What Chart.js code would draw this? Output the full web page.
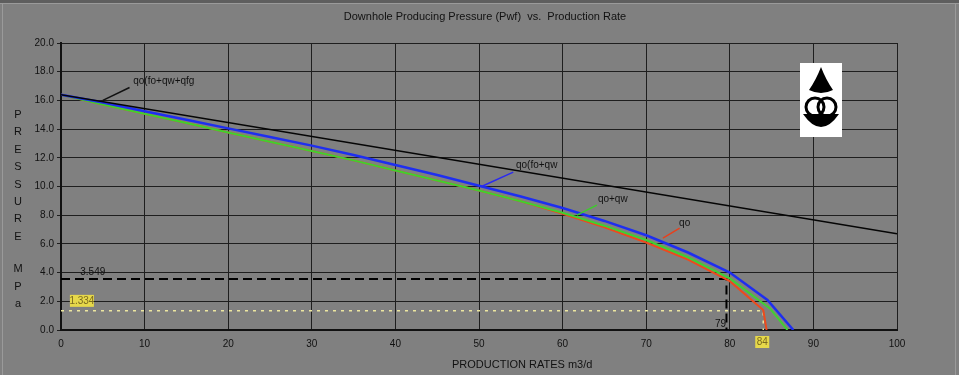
<!DOCTYPE html>
<html>
<head>
<meta charset="utf-8">
<script src="https://cdn.jsdelivr.net/npm/chart.js@4.4.1/dist/chart.umd.min.js"></script>
<style>
  html, body { margin: 0; padding: 0; background: #808080; }
  #wrap { width: 959px; height: 375px; position: relative; }
</style>
</head>
<body>
<div id="wrap"><canvas id="grafico" width="959" height="375"></canvas></div>
<script>
// IPR curves (rate m3/d, pressure MPa)
const qTotalRates = [0, 5, 10, 15, 20, 25, 30, 35, 40, 45, 50, 55, 60, 65, 70, 75, 80, 84.5, 87.6];
const qTotalPress = [16.4, 15.85, 15.25, 14.65, 14.05, 13.45, 12.85, 12.2, 11.5, 10.8, 10.05, 9.3, 8.5, 7.6, 6.6, 5.4, 4.0, 2.1, 0];
const qOilWaterRates = [0, 5, 10, 15, 20, 25, 30, 35, 40, 45, 50, 55, 60, 65, 70, 75, 80, 84.8, 86.9];
const qOilWaterPress = [16.4, 15.72, 15.07, 14.42, 13.77, 13.12, 12.47, 11.82, 11.12, 10.42, 9.72, 8.97, 8.17, 7.27, 6.27, 5.07, 3.6, 1.5, 0];
const qOilRates = [0, 5, 10, 15, 20, 25, 30, 35, 40, 45, 50, 55, 60, 65, 70, 75, 80, 84, 84.4];
const qOilPress = [16.4, 15.72, 15.07, 14.42, 13.77, 13.12, 12.47, 11.82, 11.12, 10.42, 9.72, 8.97, 8.1, 7.15, 6.1, 4.9, 3.4, 1.4, 0];
const qGasRates = [0, 100];
const qGasPress = [16.4, 6.7];

// operating points
const pwfDash = 3.549, qDash = 79.6;
const pwfDot = 1.334, qDot = 84;

const seriesLabels = ['qo(fo+qw+qfg', 'qo(fo+qw', 'qo+qw', 'qo'];
const yTicks = [0, 2, 4, 6, 8, 10, 12, 14, 16, 18, 20];
const xTicks = [0, 10, 20, 30, 40, 50, 60, 70, 80, 90, 100];

function pts(xs, ys) { return xs.map((x, i) => ({ x: x, y: ys[i] })); }

const leaders = [
  { text: seriesLabels[0], color: '#111', from: [5, 16.0], to: [8.2, 16.9], at: [12.3, 17.3] },
  { text: seriesLabels[1], color: '#2a2af0', from: [50.3, 10.0], to: [54.1, 11.0], at: [56.9, 11.5] },
  { text: seriesLabels[2], color: '#3ccc2a', from: [61.7, 8.0], to: [64.1, 8.7], at: [66.0, 9.1] },
  { text: seriesLabels[3], color: '#e8401c', from: [72.0, 6.4], to: [74.0, 7.1], at: [74.6, 7.45] }
];

// listed bottom to top; Chart.js paints index 0 last, so the list is reversed below
const datasets = [
  { data: pts([0, qDot, qDot], [pwfDot, pwfDot, 0]), borderColor: '#ece6a0', borderWidth: 1.5, borderDash: [3, 5] },
  { data: pts([0, qDash, qDash], [pwfDash, pwfDash, 0]), borderColor: '#000', borderWidth: 2, borderDash: [9, 5] },
  { data: pts(qOilRates, qOilPress), borderColor: '#ee4a1c', borderWidth: 2 },
  { data: pts(qOilWaterRates, qOilWaterPress), borderColor: '#3fd030', borderWidth: 2 },
  { data: pts(qTotalRates, qTotalPress), borderColor: '#1e2ef0', borderWidth: 2.5 },
  { data: pts(qGasRates, qGasPress), borderColor: '#050505', borderWidth: 1.5 }
];
leaders.forEach(l => datasets.push({
  data: pts([l.from[0], l.to[0]], [l.from[1], l.to[1]]), borderColor: l.color, borderWidth: 1.5
}));
datasets.forEach(d => { d.pointRadius = 0; d.fill = false; d.tension = 0; });
datasets.reverse();

const font = 'Liberation Sans';

const decor = {
  id: 'decor',
  beforeDraw(chart) {
    const c = chart.ctx;
    c.save();
    c.fillStyle = '#808080';
    c.fillRect(0, 0, chart.width, chart.height);
    c.fillStyle = '#5e5e5e';
    c.fillRect(0, 0, chart.width, 3);
    c.fillStyle = '#9a9a9a';
    c.fillRect(0, 3, chart.width, 1);
    c.fillRect(2, 3, 1, chart.height);
    c.fillRect(chart.width - 4, 3, 1, chart.height);
    c.restore();
  },
  afterDraw(chart) {
    const c = chart.ctx, xs = chart.scales.x, ys = chart.scales.y;
    c.save();
    // title
    c.fillStyle = '#111';
    c.font = '11px "' + font + '"';
    c.textAlign = 'center';
    c.textBaseline = 'middle';
    c.fillText('Downhole Producing Pressure (Pwf)  vs.  Production Rate', 485, 17);
    // axis titles
    c.textAlign = 'left';
    c.fillText('PRODUCTION RATES m3/d', 452, 365);
    c.textAlign = 'center';
    'PRESSURE'.split('').forEach((ch, i) => c.fillText(ch, 18, 115 + i * 17.4));
    ['M', 'P', 'a'].forEach((ch, i) => c.fillText(ch, 18, 269 + i * 17.5));
    // series labels
    c.font = '10px "' + font + '"';
    leaders.forEach(l => {
      c.fillStyle = '#111';
      c.fillText(l.text, xs.getPixelForValue(l.at[0]), ys.getPixelForValue(l.at[1]));
    });
    // operating point labels
    c.fillText(pwfDash.toFixed(3), xs.getPixelForValue(3.8), ys.getPixelForValue(pwfDash) - 7);
    c.fillText(String(Math.floor(qDash)), xs.getPixelForValue(qDash) - 6, ys.getPixelForValue(0) - 6);
    let px = xs.getPixelForValue(2.5), py = ys.getPixelForValue(pwfDot) - 10;
    c.fillStyle = '#e6d84a';
    c.fillRect(px - 12, py - 6, 24, 12);
    c.fillStyle = '#7a6a20';
    c.fillText(pwfDot.toFixed(3), px, py);
    px = xs.getPixelForValue(qDot) - 1; py = ys.getPixelForValue(0) + 12;
    c.fillStyle = '#e6d84a';
    c.fillRect(px - 7, py - 6, 14, 12);
    c.fillStyle = '#7a6a20';
    c.fillText(String(qDot), px, py);
    // logo
    c.fillStyle = '#fff';
    c.fillRect(800, 63, 42, 74);
    c.fillStyle = '#000';
    c.beginPath();
    c.moveTo(821, 67);
    c.quadraticCurveTo(826, 80, 833, 90);
    c.quadraticCurveTo(821, 96, 809, 90);
    c.quadraticCurveTo(816, 80, 821, 67);
    c.closePath();
    c.fill();
    c.beginPath();
    c.moveTo(803, 114);
    c.quadraticCurveTo(821, 140, 839, 114);
    c.closePath();
    c.fill();
    c.lineWidth = 3;
    c.strokeStyle = '#000';
    c.beginPath(); c.arc(815, 107, 9, 0, Math.PI * 2); c.stroke();
    c.beginPath(); c.arc(827, 107, 9, 0, Math.PI * 2); c.stroke();
    c.restore();
  }
};

new Chart(document.getElementById('grafico').getContext('2d'), {
  type: 'line',
  data: { datasets: datasets },
  options: {
    responsive: false,
    animation: false,
    layout: { padding: { left: 0, right: 62, top: 43, bottom: 0 } },
    plugins: { legend: { display: false }, tooltip: { enabled: false }, title: { display: false } },
    scales: {
      x: {
        type: 'linear', min: 0, max: 100,
        afterFit: s => { s.height = 45; },
        afterBuildTicks: s => { s.ticks = xTicks.map(v => ({ value: v })); },
        ticks: { color: '#111', font: { family: font, size: 10 }, padding: 8, callback: v => String(v) },
        grid: { color: '#1e1e1e', lineWidth: 1, drawTicks: false },
        border: { color: '#111', width: 2 }
      },
      y: {
        type: 'linear', min: 0, max: 20,
        afterFit: s => { s.width = 61; },
        afterBuildTicks: s => { s.ticks = yTicks.map(v => ({ value: v })); },
        ticks: { color: '#111', font: { family: font, size: 10 }, padding: 3, callback: v => v.toFixed(1) },
        grid: { color: '#1e1e1e', lineWidth: 1, tickLength: 4 },
        border: { color: '#111', width: 2 }
      }
    }
  },
  plugins: [decor]
});
</script>
</body>
</html>
